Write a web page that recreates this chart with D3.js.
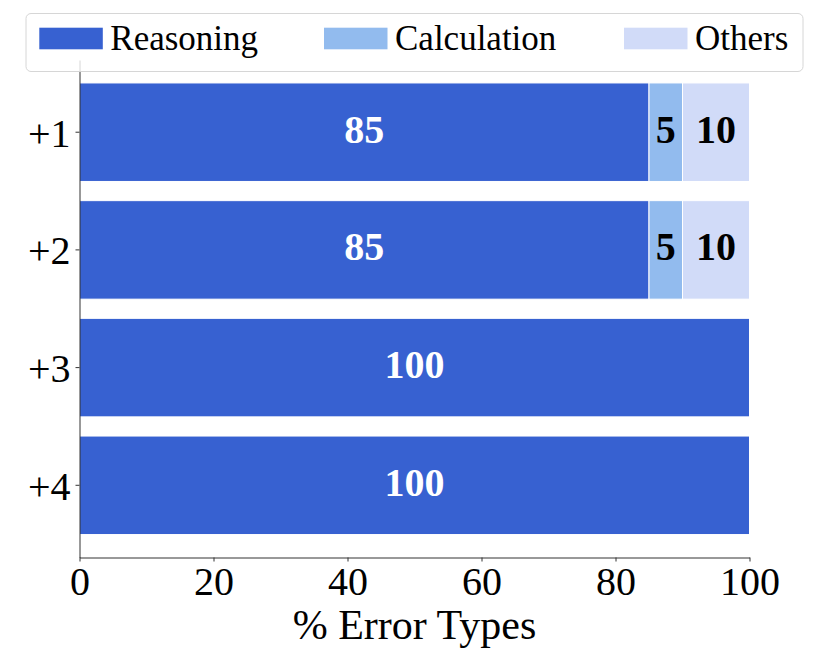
<!DOCTYPE html>
<html>
<head>
<meta charset="utf-8">
<script src="https://cdn.jsdelivr.net/npm/d3@7"></script>
<style>
  body { margin: 0; background: #fff; }
  svg text { font-family: 'Liberation Serif', 'DejaVu Serif', serif; }
</style>
</head>
<body>
<svg id="chart" width="830" height="664"></svg>
<script>
// data
const categories = ['+1', '+2', '+3', '+4']
const reasoning = [85, 85, 100, 100]
const calculation = [5, 5, 0, 0]
const others = [10, 10, 0, 0]
const seriesNames = ['Reasoning', 'Calculation', 'Others']
const xTickValues = [0, 20, 40, 60, 80, 100]

const colors = ['#3761d1', '#92bbee', '#d1dbf8']
const labelColors = ['#ffffff', '#000000', '#000000']
const axisColor = '#333'

const svg = d3.select('#chart')

const xScale = d3.scaleLinear()
  .domain([0, 100])
  .range([79.5, 749.5])

const yScale = d3.scaleBand()
  .domain(categories)
  .range([60, 557.5])
  .paddingInner(0.163)
  .paddingOuter(0.195)

// stack the series per category
const rows = categories.map((c, i) => ({
  cat: c,
  Reasoning: reasoning[i],
  Calculation: calculation[i],
  Others: others[i]
}))
const stacked = d3.stack().keys(seriesNames)(rows)

// bars
const layers = svg.selectAll('g.layer')
  .data(stacked)
  .enter()
  .append('g')
  .attr('class', 'layer')
  .attr('fill', (d, i) => colors[i])

layers.selectAll('rect')
  .data(d => d.filter(s => s[1] - s[0] > 0))
  .enter()
  .append('rect')
  .attr('x', d => xScale(d[0]))
  .attr('y', d => yScale(d.data.cat))
  .attr('width', d => xScale(d[1]) - xScale(d[0]))
  .attr('height', yScale.bandwidth())
  .attr('stroke', '#fff')
  .attr('stroke-width', 1)

// value labels
layers.each(function (layer, li) {
  d3.select(this).selectAll('text')
    .data(layer.filter(s => s[1] - s[0] > 0))
    .enter()
    .append('text')
    .attr('x', d => xScale((d[0] + d[1]) / 2))
    .attr('y', d => yScale(d.data.cat) + yScale.bandwidth() / 2)
    .attr('dy', '0.26em')
    .attr('text-anchor', 'middle')
    .attr('fill', labelColors[li])
    .style('font-size', '40px')
    .style('font-weight', 'bold')
    .text(d => d[1] - d[0])
})

// x axis
const xAxisGroup = svg.append('g')
  .attr('transform', `translate(0, ${yScale.range()[1]})`)
  .call(d3.axisBottom(xScale)
    .tickValues(xTickValues)
    .tickSize(4)
    .tickSizeOuter(0))

xAxisGroup.selectAll('.tick text')
  .attr('y', 37.5)
  .attr('dy', null)
  .style('font-size', '40px')
  .attr('fill', '#000')

// y axis
const yAxisGroup = svg.append('g')
  .attr('transform', `translate(${xScale.range()[0]}, 0)`)
  .call(d3.axisLeft(yScale)
    .tickSize(4)
    .tickPadding(5)
    .tickSizeOuter(0))

yAxisGroup.selectAll('.tick text')
  .attr('dy', '0.36em')
  .style('font-size', '40px')
  .attr('fill', '#000')

svg.selectAll('path.domain, .tick line')
  .attr('stroke', axisColor)
  .attr('stroke-width', 1)

// x axis title
svg.append('text')
  .attr('x', (xScale.range()[0] + xScale.range()[1]) / 2)
  .attr('y', 639)
  .attr('text-anchor', 'middle')
  .style('font-size', '42px')
  .text('% Error Types')

// legend
const legend = svg.append('g')
legend.append('rect')
  .attr('x', 26)
  .attr('y', 13.5)
  .attr('width', 777)
  .attr('height', 58)
  .attr('rx', 5)
  .attr('fill', '#fff')
  .attr('fill-opacity', 0.8)
  .attr('stroke', '#d6d6d6')
  .attr('stroke-width', 1)

const legendX = [39.3, 324, 624]
const items = legend.selectAll('g.item')
  .data(seriesNames)
  .enter()
  .append('g')
  .attr('class', 'item')
  .attr('transform', (d, i) => `translate(${legendX[i]}, 0)`)

items.append('rect')
  .attr('x', 0)
  .attr('y', 27.7)
  .attr('width', 63.5)
  .attr('height', 21.6)
  .attr('fill', (d, i) => colors[i])

items.append('text')
  .attr('x', 71)
  .attr('y', 50)
  .style('font-size', '35px')
  .text(d => d)
</script>
</body>
</html>
